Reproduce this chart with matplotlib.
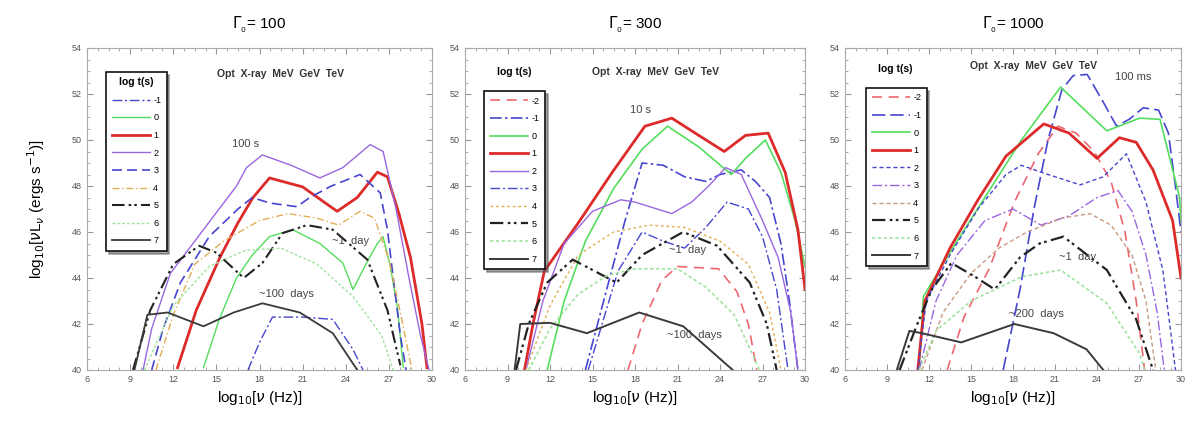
import matplotlib
matplotlib.use("Agg")
import matplotlib.pyplot as plt

plt.rcParams['font.family'] = ['Liberation Sans', 'DejaVu Sans']

# ---- data: log10(nu) vs log10(nu L_nu) ----
log_t_p1 = ['-1', '0', '1', '2', '3', '4', '5', '6', '7']
log_t_p23 = ['-2', '-1', '0', '1', '2', '3', '4', '5', '6', '7']

# Gamma = 100
g100_m1_x = [17.2, 18.0, 18.9, 21.0, 23.1, 24.5, 25.2]
g100_m1_y = [40.0, 41.2, 42.3, 42.3, 42.2, 40.9, 40.0]
g100_0_x = [14.1, 15.2, 16.4, 17.5, 18.7, 20.3, 22.2, 23.8, 24.5, 25.4, 26.2, 26.6, 27.1, 27.6, 28.0]
g100_0_y = [40.1, 42.2, 44.0, 45.0, 45.8, 46.1, 45.5, 44.65, 43.5, 44.6, 45.5, 45.8, 44.5, 42.7, 40.1]
g100_1_x = [12.3, 13.6, 15.25, 16.5, 17.55, 18.7, 21.0, 23.4, 24.8, 26.2, 26.9, 27.7, 28.5, 29.3, 29.65]
g100_1_y = [40.1, 42.6, 44.9, 46.4, 47.5, 48.35, 47.96, 46.9, 47.5, 48.6, 48.4, 46.8, 44.9, 42.0, 40.1]
g100_2_x = [9.9, 10.5, 11.8, 14.1, 16.4, 17.1, 18.2, 20.2, 22.2, 23.8, 25.7, 26.6, 27.5, 28.4, 29.2, 29.8]
g100_2_y = [40.0, 41.8, 44.2, 46.1, 48.0, 48.8, 49.35, 48.9, 48.35, 48.8, 49.8, 49.5, 47.0, 44.0, 41.5, 40.0]
g100_3_x = [10.5, 11.3, 12.5, 14.5, 16.5, 17.5, 18.7, 20.6, 21.5, 23.0, 25.0, 26.4, 26.9, 27.4, 27.8, 28.2]
g100_3_y = [40.0, 41.8, 43.8, 45.8, 47.0, 47.5, 47.26, 47.1, 47.5, 48.0, 48.5, 47.7, 46.1, 43.5, 41.5, 40.0]
g100_4_x = [10.8, 12.0, 13.5, 15.5, 18.0, 20.0, 22.0, 23.5, 25.0, 26.0, 27.0, 27.8, 28.6]
g100_4_y = [40.0, 42.4, 44.6, 45.6, 46.5, 46.8, 46.6, 46.3, 46.9, 46.6, 44.8, 42.5, 40.0]
g100_5_x = [9.2, 10.4, 12.0, 13.8, 15.0, 16.9, 18.2, 19.6, 21.3, 23.1, 25.5, 26.9, 27.8]
g100_5_y = [40.0, 42.6, 44.6, 45.4, 45.1, 44.0, 44.65, 45.95, 46.3, 46.1, 44.8, 42.6, 40.2]
g100_6_x = [10.0, 12.0, 14.5, 17.0, 19.5, 22.0, 24.5, 26.5, 27.3]
g100_6_y = [40.0, 42.8, 44.5, 45.2, 45.3, 44.6, 43.2, 41.5, 40.0]
g100_7_x = [9.3, 10.2, 11.6, 14.1, 16.2, 18.2, 20.8, 23.1, 24.8]
g100_7_y = [40.0, 42.4, 42.5, 41.9, 42.5, 42.9, 42.5, 41.6, 40.0]

# Gamma = 300
g300_m2_x = [17.5, 18.5, 19.9, 21.0, 23.9, 25.2, 26.0, 26.6]
g300_m2_y = [40.0, 42.0, 43.9, 44.5, 44.4, 43.4, 42.0, 40.0]
g300_m1_x = [14.5, 16.0, 17.3, 18.5, 20.0, 21.5, 23.0, 24.0, 25.5, 26.5, 27.5, 28.3, 28.9, 29.5]
g300_m1_y = [40.0, 43.5, 46.5, 49.0, 48.9, 48.4, 48.2, 48.5, 48.7, 48.2, 47.5, 45.5, 43.0, 40.0]
g300_0_x = [11.8, 13.0, 14.5, 16.5, 18.5, 20.3, 22.5, 24.8, 25.8, 27.2, 28.3, 29.3, 30.0]
g300_0_y = [40.0, 43.0, 45.6, 47.9, 49.6, 50.6, 49.7, 48.5, 49.2, 50.0, 48.6, 46.5, 44.5]
g300_1_x = [10.2, 10.8, 11.6, 14.0, 16.4, 18.7, 20.6, 22.5, 24.3, 25.8, 27.4, 28.6, 29.5, 30.0]
g300_1_y = [40.0, 42.0, 44.3, 46.4, 48.6, 50.6, 50.95, 50.2, 49.5, 50.2, 50.3, 48.6, 46.1, 43.5]
g300_2_x = [10.3, 11.5, 13.0, 15.0, 17.0, 18.0, 20.6, 22.0, 23.2, 24.4, 25.5, 27.0, 28.1, 29.0, 29.5]
g300_2_y = [40.0, 43.0, 45.5, 46.9, 47.4, 47.3, 46.8, 47.3, 48.0, 48.8, 48.5, 46.5, 44.9, 42.5, 40.0]
g300_3_x = [14.7, 16.8, 18.5, 20.0, 21.5, 23.0, 24.5, 26.0, 27.0, 28.0, 28.8]
g300_3_y = [40.0, 44.3, 46.0, 45.6, 45.3, 46.2, 47.3, 47.0, 45.8, 43.5, 40.0]
g300_4_x = [10.3, 12.0, 14.0, 16.5, 19.0, 21.5, 24.0, 26.0, 27.5, 28.3]
g300_4_y = [40.0, 42.8, 45.0, 46.0, 46.3, 46.2, 45.6, 44.6, 42.5, 40.0]
g300_5_x = [9.6, 10.5, 11.8, 13.6, 16.7, 18.5, 21.4, 23.8, 26.1, 27.3, 28.0]
g300_5_y = [40.0, 42.0, 43.8, 44.8, 43.8, 45.0, 46.0, 45.4, 43.8, 42.0, 40.0]
g300_6_x = [10.5, 12.0, 14.0, 16.0, 18.0, 21.0, 23.0, 25.0, 26.8]
g300_6_y = [40.0, 41.8, 43.3, 44.1, 44.4, 44.4, 43.6, 42.4, 40.0]
g300_7_x = [9.5, 9.9, 12.0, 14.6, 18.3, 21.4, 24.9]
g300_7_y = [40.0, 42.0, 42.05, 41.6, 42.5, 41.9, 40.0]

# Gamma = 1000
g1000_m2_x = [13.3, 14.5, 16.3, 18.1, 19.8, 21.2, 22.5, 23.8, 25.0, 26.0, 26.8, 27.4]
g1000_m2_y = [40.0, 42.3, 44.4, 47.3, 49.4, 50.6, 50.3, 49.5, 48.2, 46.0, 43.0, 40.0]
g1000_m1_x = [17.3, 18.5, 19.5, 20.5, 21.5, 22.3, 23.3, 24.4, 25.4, 26.3, 27.3, 28.4, 29.1, 29.6, 30.0]
g1000_m1_y = [40.0, 43.5, 47.0, 50.0, 52.2, 52.8, 52.85, 51.7, 50.6, 50.9, 51.4, 51.3, 50.3, 48.0, 46.0]
g1000_0_x = [11.3, 11.6, 13.9, 16.3, 18.6, 21.4, 24.7, 27.05, 28.5, 29.9, 30.0]
g1000_0_y = [40.0, 43.2, 45.5, 47.8, 50.0, 52.3, 50.4, 50.95, 50.9, 47.5, 46.5]
g1000_1_x = [11.2, 11.7, 13.5, 15.5, 17.5, 20.2, 22.0, 24.0, 25.6, 26.8, 28.0, 29.4, 30.0]
g1000_1_y = [40.0, 43.0, 45.3, 47.4, 49.3, 50.7, 50.3, 49.2, 50.1, 49.9, 48.7, 46.5, 44.0]
g1000_2_x = [11.2, 11.8, 13.5, 15.5, 17.5, 18.6, 20.5, 22.8, 24.45, 26.1, 27.5, 28.7, 29.3, 29.6]
g1000_2_y = [40.0, 43.0, 45.0, 47.0, 48.5, 48.9, 48.5, 48.05, 48.4, 49.4, 47.3, 44.35, 41.5, 40.0]
g1000_3_x = [11.3, 12.5, 14.0, 16.0, 18.0, 20.0, 22.0, 24.0, 25.5, 26.5, 27.5, 28.3, 28.8]
g1000_3_y = [40.0, 43.0, 45.0, 46.5, 47.0, 46.3, 46.7, 47.5, 47.8, 46.9, 45.0, 42.5, 40.0]
g1000_4_x = [11.5, 13.0, 15.0, 17.0, 19.0, 21.5, 23.5, 25.0, 26.5, 27.5, 28.2]
g1000_4_y = [40.0, 42.5, 44.2, 45.3, 46.0, 46.6, 46.8, 46.3, 45.0, 43.0, 40.0]
g1000_5_x = [9.9, 11.1, 12.2, 13.6, 15.3, 16.7, 18.5, 19.9, 21.6, 24.7, 26.8, 28.0]
g1000_5_y = [40.0, 41.9, 43.5, 44.65, 44.05, 43.5, 44.9, 45.5, 45.8, 44.35, 42.2, 40.0]
g1000_6_x = [11.3, 12.5, 15.0, 18.6, 21.4, 24.7, 27.05, 27.4]
g1000_6_y = [40.0, 41.7, 43.0, 44.05, 44.35, 42.9, 40.7, 40.0]
g1000_7_x = [9.7, 10.6, 11.5, 14.3, 18.1, 20.9, 23.25, 24.45]
g1000_7_y = [40.0, 41.7, 41.6, 41.2, 42.0, 41.6, 40.9, 40.0]

titles = ['100', '300', '1000']
x_ticks = [6, 9, 12, 15, 18, 21, 24, 27, 30]
y_ticks = [40, 42, 44, 46, 48, 50, 52, 54]

RED = '#dd2a2a'
PINK = '#ee6670'
GREEN = '#55dd5e'
LGREEN = '#9fe39f'
BLUE = '#4646cf'
VIOLET = '#9a66e0'
ORANGE = '#e2ae55'
BLACK = '#222222'

dashdot = (0, (7, 2, 1.5, 2))
dashdot2 = (0, (6, 2, 1.2, 1.5, 1.2, 2))

styles_p1 = {
    '-1': dict(color=BLUE, ls=dashdot, lw=1.0),
    '0': dict(color=GREEN, ls='-', lw=1.0),
    '1': dict(color=RED, ls='-', lw=2.0),
    '2': dict(color=VIOLET, ls='-', lw=1.0),
    '3': dict(color=BLUE, ls=(0, (6, 3)), lw=1.2),
    '4': dict(color=ORANGE, ls=(0, (5, 2, 1, 2)), lw=1.0),
    '5': dict(color=BLACK, ls=dashdot2, lw=1.5),
    '6': dict(color=LGREEN, ls=(0, (2, 1.5)), lw=1.0),
    '7': dict(color='#3a3a3a', ls='-', lw=1.3),
}
styles_p2 = {
    '-2': dict(color=PINK, ls=(0, (6, 4)), lw=1.2),
    '-1': dict(color=BLUE, ls=dashdot, lw=1.2),
    '0': dict(color=GREEN, ls='-', lw=1.2),
    '1': dict(color=RED, ls='-', lw=2.0),
    '2': dict(color=VIOLET, ls='-', lw=1.0),
    '3': dict(color=BLUE, ls=dashdot, lw=1.0),
    '4': dict(color=ORANGE, ls=(0, (2, 2)), lw=1.0),
    '5': dict(color=BLACK, ls=dashdot2, lw=1.6),
    '6': dict(color=LGREEN, ls=(0, (2, 1.5)), lw=1.2),
    '7': dict(color='#3a3a3a', ls='-', lw=1.4),
}
styles_p3 = dict(styles_p2)
styles_p3['-1'] = dict(color=BLUE, ls=(0, (8, 3)), lw=1.2)
styles_p3['2'] = dict(color=BLUE, ls=(0, (3, 2)), lw=1.0)
styles_p3['3'] = dict(color=VIOLET, ls=dashdot, lw=1.0)
styles_p3['4'] = dict(color='#c89a80', ls=(0, (3, 2)), lw=1.0)

curves_p1 = [(g100_m1_x, g100_m1_y), (g100_0_x, g100_0_y), (g100_1_x, g100_1_y),
             (g100_2_x, g100_2_y), (g100_3_x, g100_3_y), (g100_4_x, g100_4_y),
             (g100_5_x, g100_5_y), (g100_6_x, g100_6_y), (g100_7_x, g100_7_y)]
curves_p2 = [(g300_m2_x, g300_m2_y), (g300_m1_x, g300_m1_y), (g300_0_x, g300_0_y),
             (g300_1_x, g300_1_y), (g300_2_x, g300_2_y), (g300_3_x, g300_3_y),
             (g300_4_x, g300_4_y), (g300_5_x, g300_5_y), (g300_6_x, g300_6_y),
             (g300_7_x, g300_7_y)]
curves_p3 = [(g1000_m2_x, g1000_m2_y), (g1000_m1_x, g1000_m1_y), (g1000_0_x, g1000_0_y),
             (g1000_1_x, g1000_1_y), (g1000_2_x, g1000_2_y), (g1000_3_x, g1000_3_y),
             (g1000_4_x, g1000_4_y), (g1000_5_x, g1000_5_y), (g1000_6_x, g1000_6_y),
             (g1000_7_x, g1000_7_y)]

fig = plt.figure(figsize=(11.89, 4.26), dpi=100)
boxes = [(87, 345), (465, 340), (845, 336)]
panels = [(log_t_p1, curves_p1, styles_p1), (log_t_p23, curves_p2, styles_p2),
          (log_t_p23, curves_p3, styles_p3)]
labels_time = [('100 s', 17.0, 49.6), ('10 s', 18.4, 51.1), ('100 ms', 26.6, 52.5)]
labels_day = [(24.3, 45.6), (21.7, 45.2), (22.6, 44.9)]
labels_late = [('~100  days', 19.9, 43.1), ('~100  days', 22.2, 41.3), ('~200  days', 19.7, 42.2)]
legend_boxes = [(0.043, 0.94), (0.044, 0.88), (0.05, 0.89)]
band_y = [0.92, 0.925, 0.945]

for i, (left, width) in enumerate(boxes):
    ax = fig.add_axes([left / 1189, 1 - 370 / 426, width / 1189, 322 / 426])
    labs, curves, st = panels[i]
    for lab, (xs, ys) in zip(labs, curves):
        ax.plot(xs, ys, label=lab, solid_joinstyle='round', dash_joinstyle='round', **st[lab])

    ax.set_xlim(6, 30)
    ax.set_ylim(40, 54)
    ax.set_xticks(x_ticks)
    ax.set_yticks(y_ticks)
    ax.minorticks_on()
    ax.tick_params(which='both', direction='in', top=True, right=True,
                   colors='#999999', labelcolor='#555555', labelsize=6.5)
    ax.tick_params(which='major', length=4)
    ax.tick_params(which='minor', length=2)
    for sp in ax.spines.values():
        sp.set_color('#aaaaaa')
        sp.set_linewidth(0.8)

    ax.set_title(r'$\Gamma_{_0}$= ' + titles[i], fontsize=11, pad=14)
    ax.set_xlabel(r'log$_{10}$[$\nu$ (Hz)]', fontsize=11, labelpad=4)
    if i == 0:
        ax.set_ylabel(r'log$_{10}$[$\nu$L$_\nu$ (ergs s$^{-1}$)]', fontsize=11, labelpad=18)

    ax.text(0.56, band_y[i], 'Opt  X-ray  MeV  GeV  TeV', transform=ax.transAxes,
            ha='center', va='center', fontsize=7.5, fontweight='bold', color='#333333')

    t, tx, ty = labels_time[i]
    ax.text(tx, ty, t, fontsize=8, color='#444444', ha='center', va='bottom')
    ax.text(labels_day[i][0], labels_day[i][1], '~1  day', fontsize=8, color='#444444',
            ha='center', va='center')
    t, tx, ty = labels_late[i]
    ax.text(tx, ty, t, fontsize=8, color='#444444', ha='center', va='bottom')

    lx, ly = legend_boxes[i]
    leg = ax.legend(loc='upper left', bbox_to_anchor=(lx, ly), fontsize=6.5,
                    title='log t(s)' if i == 0 else None, handlelength=4.2,
                    labelspacing=0.95, borderpad=0.6, handletextpad=0.4,
                    frameon=True, fancybox=False, shadow=True, framealpha=1)
    leg.get_frame().set_edgecolor('#111111')
    leg.get_frame().set_linewidth(1.2)
    if i == 0:
        leg.get_title().set_fontsize(7.5)
        leg.get_title().set_fontweight('bold')
    else:
        ax.text(lx + 0.1, ly + 0.045, 'log t(s)', transform=ax.transAxes, ha='center',
                va='center', fontsize=7.5, fontweight='bold')

fig.savefig('out.png', dpi=100)
